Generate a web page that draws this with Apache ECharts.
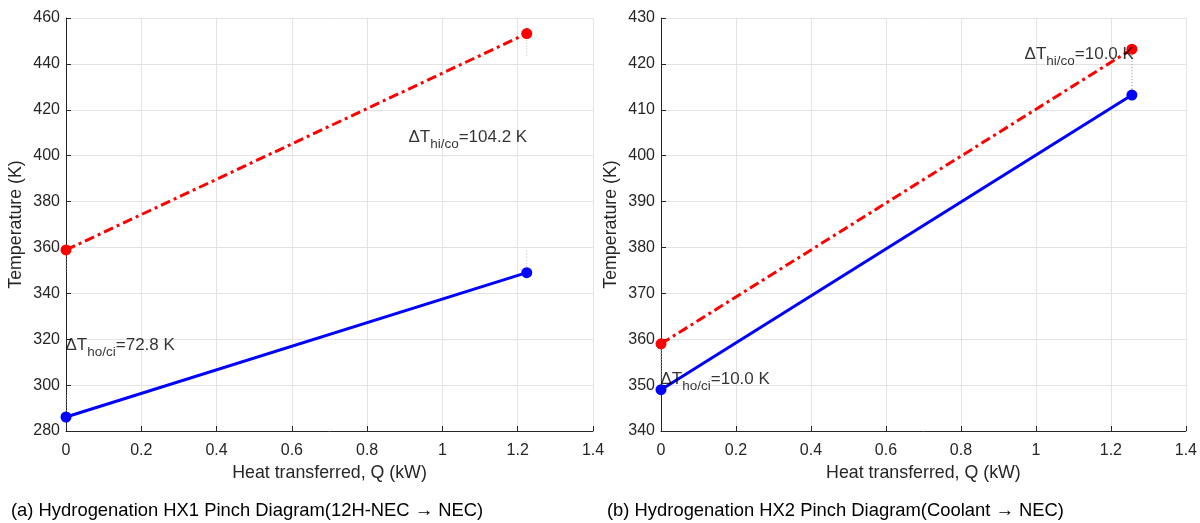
<!DOCTYPE html>
<html>
<head>
<meta charset="utf-8">
<script src="https://cdn.jsdelivr.net/npm/echarts@6/dist/echarts.min.js"></script>
<style>
  html, body { margin: 0; padding: 0; background: #ffffff; }
  #chart { width: 1200px; height: 523px; }
</style>
</head>
<body>
<div id="chart"></div>
<script>
// Heat duty end points (kW)
const qHX1 = [0, 1.224];
const qHX2 = [0, 1.256];
// Stream temperatures (K): [value at Q = 0, value at full duty]
const hotHX1 = [358.9, 453.2];
const coldHX1 = [286.1, 349.0];
const hotHX2 = [359.0, 423.2];
const coldHX2 = [349.0, 413.2];
// Axis ranges: [min, max, interval]
const qRange = [0, 1.4, 0.2];
const tRangeHX1 = [280, 460, 20];
const tRangeHX2 = [340, 430, 10];
// Length of the dotted end guides (K)
const guideSpan = 10;
// Annotation anchors [Q, T]: terminal difference at hot inlet, then at hot outlet
const annoHX1 = [[0.911, 407.8], [0, 317.2]];
const annoHX2 = [[0.971, 421.9], [0, 351.2]];
const deltaTags = ['hi/co', 'ho/ci'];
const captions = [
  '(a) Hydrogenation HX1 Pinch Diagram(12H-NEC \u2192 NEC)',
  '(b) Hydrogenation HX2 Pinch Diagram(Coolant \u2192 NEC)'
];

const panels = [
  { q: qHX1, hot: hotHX1, cold: coldHX1, t: tRangeHX1, anno: annoHX1 },
  { q: qHX2, hot: hotHX2, cold: coldHX2, t: tRangeHX2, anno: annoHX2 }
];

const ink = '#262626';
const font = '"Liberation Sans", Arial, Helvetica, sans-serif';
const gridBoxes = [
  { left: 66, top: 18, width: 527, height: 413 },
  { left: 661, top: 18, width: 525, height: 413 }
];

const grid = gridBoxes.map(b => Object.assign({ containLabel: false }, b));

const xAxis = panels.map((p, i) => ({
  type: 'value', gridIndex: i,
  min: qRange[0], max: qRange[1], interval: qRange[2],
  name: 'Heat transferred, Q (kW)', nameLocation: 'middle', nameGap: 30,
  nameTextStyle: { color: ink, fontSize: 17.8, fontFamily: font },
  axisLine: { show: true, onZero: false, lineStyle: { color: ink, width: 1 } },
  axisTick: { show: true, inside: true, length: 5, lineStyle: { color: ink } },
  axisLabel: { color: ink, fontSize: 16, fontFamily: font, margin: 12 },
  splitLine: { show: true, lineStyle: { color: '#e3e3e3', width: 1 } }
}));

const yAxis = panels.map((p, i) => ({
  type: 'value', gridIndex: i,
  min: p.t[0], max: p.t[1], interval: p.t[2],
  name: 'Temperature (K)', nameLocation: 'middle', nameGap: 41,
  nameTextStyle: { color: ink, fontSize: 17.8, fontFamily: font },
  axisLine: { show: true, onZero: false, lineStyle: { color: ink, width: 1 } },
  axisTick: { show: true, inside: true, length: 5, lineStyle: { color: ink } },
  axisLabel: { color: ink, fontSize: 16, fontFamily: font, margin: 6 },
  splitLine: { show: true, lineStyle: { color: '#e3e3e3', width: 1 } }
}));

const rich = {
  m: { fontSize: 17, fontFamily: font, color: '#000', lineHeight: 28, verticalAlign: 'middle' },
  s: { fontSize: 13.5, fontFamily: font, color: '#000', lineHeight: 28, verticalAlign: 'bottom' }
};

const series = [];
panels.forEach((p, i) => {
  const end = p.q.length - 1;
  // dotted guides at both ends of each stream
  const guides = [
    [[p.q[end], p.hot[end]], [p.q[end], p.hot[end] - guideSpan]],
    [[p.q[end], p.cold[end]], [p.q[end], p.cold[end] + guideSpan]],
    [[p.q[0], p.hot[0]], [p.q[0], p.hot[0] - guideSpan]],
    [[p.q[0], p.cold[0]], [p.q[0], p.cold[0] + guideSpan]]
  ];
  guides.forEach(g => series.push({
    type: 'line', xAxisIndex: i, yAxisIndex: i, data: g,
    symbol: 'none', silent: true, z: 1,
    lineStyle: { color: '#b4b4b4', width: 1, type: [1, 2] }
  }));
  // cold stream
  series.push({
    type: 'line', xAxisIndex: i, yAxisIndex: i,
    data: p.q.map((q, k) => [q, p.cold[k]]),
    symbol: 'circle', symbolSize: 11, z: 3,
    lineStyle: { color: '#0000ff', width: 3 },
    itemStyle: { color: '#0000ff' }
  });
  // hot stream
  series.push({
    type: 'line', xAxisIndex: i, yAxisIndex: i,
    data: p.q.map((q, k) => [q, p.hot[k]]),
    symbol: 'circle', symbolSize: 11, z: 4,
    lineStyle: { color: '#ff0000', width: 3, type: [10, 4, 3, 4] },
    itemStyle: { color: '#ff0000' }
  });
  // terminal temperature differences
  const deltas = [
    (p.hot[end] - p.cold[end]).toFixed(1),
    (p.hot[0] - p.cold[0]).toFixed(1)
  ];
  series.push({
    type: 'scatter', xAxisIndex: i, yAxisIndex: i,
    data: p.anno.map((a, k) => ({ value: a, tag: deltaTags[k], dt: deltas[k] })),
    symbolSize: 1, z: 6, silent: true,
    itemStyle: { color: 'rgba(0,0,0,0)' },
    label: {
      show: true, position: [0, 0], align: 'left', verticalAlign: 'middle',
      formatter: prm => '{m|\u0394T}{s|' + prm.data.tag + '}{m|=' + prm.data.dt + ' K}',
      rich: rich
    }
  });
});

const title = captions.map((c, i) => ({
  text: c, left: i === 0 ? 6 : 602, top: 497,
  textStyle: { color: '#000', fontSize: 18.4, fontWeight: 'normal', fontFamily: font }
}));

const chart = echarts.init(document.getElementById('chart'), null, { renderer: 'canvas' });
chart.setOption({
  backgroundColor: '#ffffff',
  animation: false,
  title: title,
  grid: grid,
  xAxis: xAxis,
  yAxis: yAxis,
  series: series
});
</script>
</body>
</html>
